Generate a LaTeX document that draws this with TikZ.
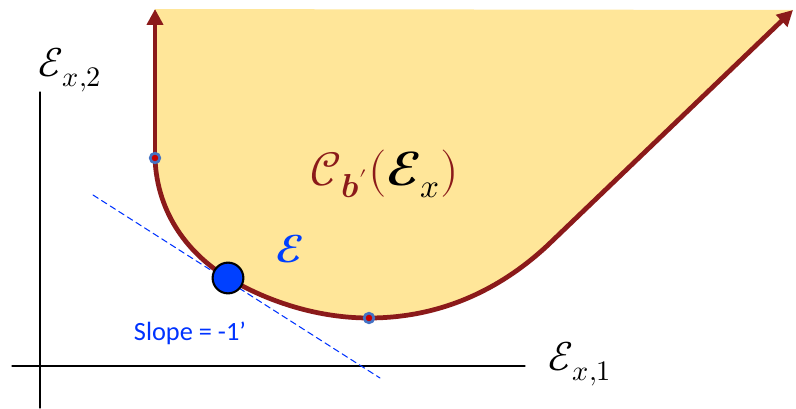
\documentclass[tikz,border=0pt]{standalone}
\usepackage{unicode-math}
\setmainfont{Carlito}
\setmathfont{Latin Modern Math}
\usetikzlibrary{arrows.meta}
\definecolor{conored}{RGB}{139,26,26}
\definecolor{conofill}{RGB}{255,230,153}
\definecolor{ptblue}{RGB}{0,64,255}
\definecolor{ringblue}{RGB}{68,114,196}
\definecolor{dotred}{RGB}{200,0,0}
\definecolor{slopeblue}{RGB}{0,51,255}
\begin{document}
\begin{tikzpicture}[x=0.02cm, y=-0.02cm, line cap=round, line join=round,
    borde/.style={draw=conored, line width=2.7pt},
    punta/.style={-{Triangle[length=9pt,width=9pt]}},
    puntito/.style={circle, draw=ringblue, fill=dotred, line width=1.5pt, inner sep=0pt, minimum size=5.5pt},
    puntazo/.style={circle, draw=black, fill=ptblue, line width=1.2pt, inner sep=0pt, minimum size=17.5pt},
    tangente/.style={draw=slopeblue, line width=0.6pt, dash pattern=on 3.5pt off 2.3pt}]
  \useasboundingbox (0,0) rectangle (796,409);
  % puntos del borde
  \coordinate (arriba) at (155,9);
  \coordinate (codo) at (155,158);
  \coordinate (tang) at (228,278);
  \coordinate (fondo) at (369,318);
  \coordinate (recta) at (548,245);
  \coordinate (fin) at (793,10);
  % la region sombreada
  \fill[conofill] (arriba) -- (codo) .. controls (157,215) and (190,255) .. (tang)
    .. controls (270,303) and (320,318) .. (fondo)
    .. controls (440,318) and (500,290) .. (recta) -- (fin) -- cycle;
  % los ejes
  \draw[line width=0.7pt] (40,92) -- (40,408);
  \draw[line width=0.7pt] (12,366) -- (525,366);
  \node (ejey) at (70,70) {\fontsize{23}{27}\selectfont$\mathcal{E}_{x,2}$};
  \node (ejex) at (580,364) {\fontsize{23}{27}\selectfont$\mathcal{E}_{x,1}$};
  % la tangente
  \coordinate (tga) at (93,195);
  \coordinate (tgb) at (380,378);
  \draw[tangente] (tga) -- (tgb);
  % el borde, con sus flechas
  \draw[borde, punta] (codo) -- (arriba);
  \draw[borde, punta] (codo) .. controls (157,215) and (190,255) .. (tang)
    .. controls (270,303) and (320,318) .. (fondo)
    .. controls (440,318) and (500,290) .. (recta) -- (fin);
  \node[puntito] (pcodo) at (codo) {};
  \node[puntito] (pfondo) at (fondo) {};
  \node[puntazo] (ptang) at (tang) {};
  % etiquetas
  \node[text=conored] (conolbl) at (385,174)
    {\fontsize{27}{32}\selectfont$\mathcal{C}_{\symbfit{b}'}(\textcolor{black}{\symbfscr{E}_{x}})$};
  \node[text=ptblue] (elbl) at (290,249) {\fontsize{22}{26}\selectfont$\symbfscr{E}$};
  \node[text=slopeblue] (slopelbl) at (190,333) {\fontsize{15}{18}\selectfont Slope = -1’};
\end{tikzpicture}
\end{document}
